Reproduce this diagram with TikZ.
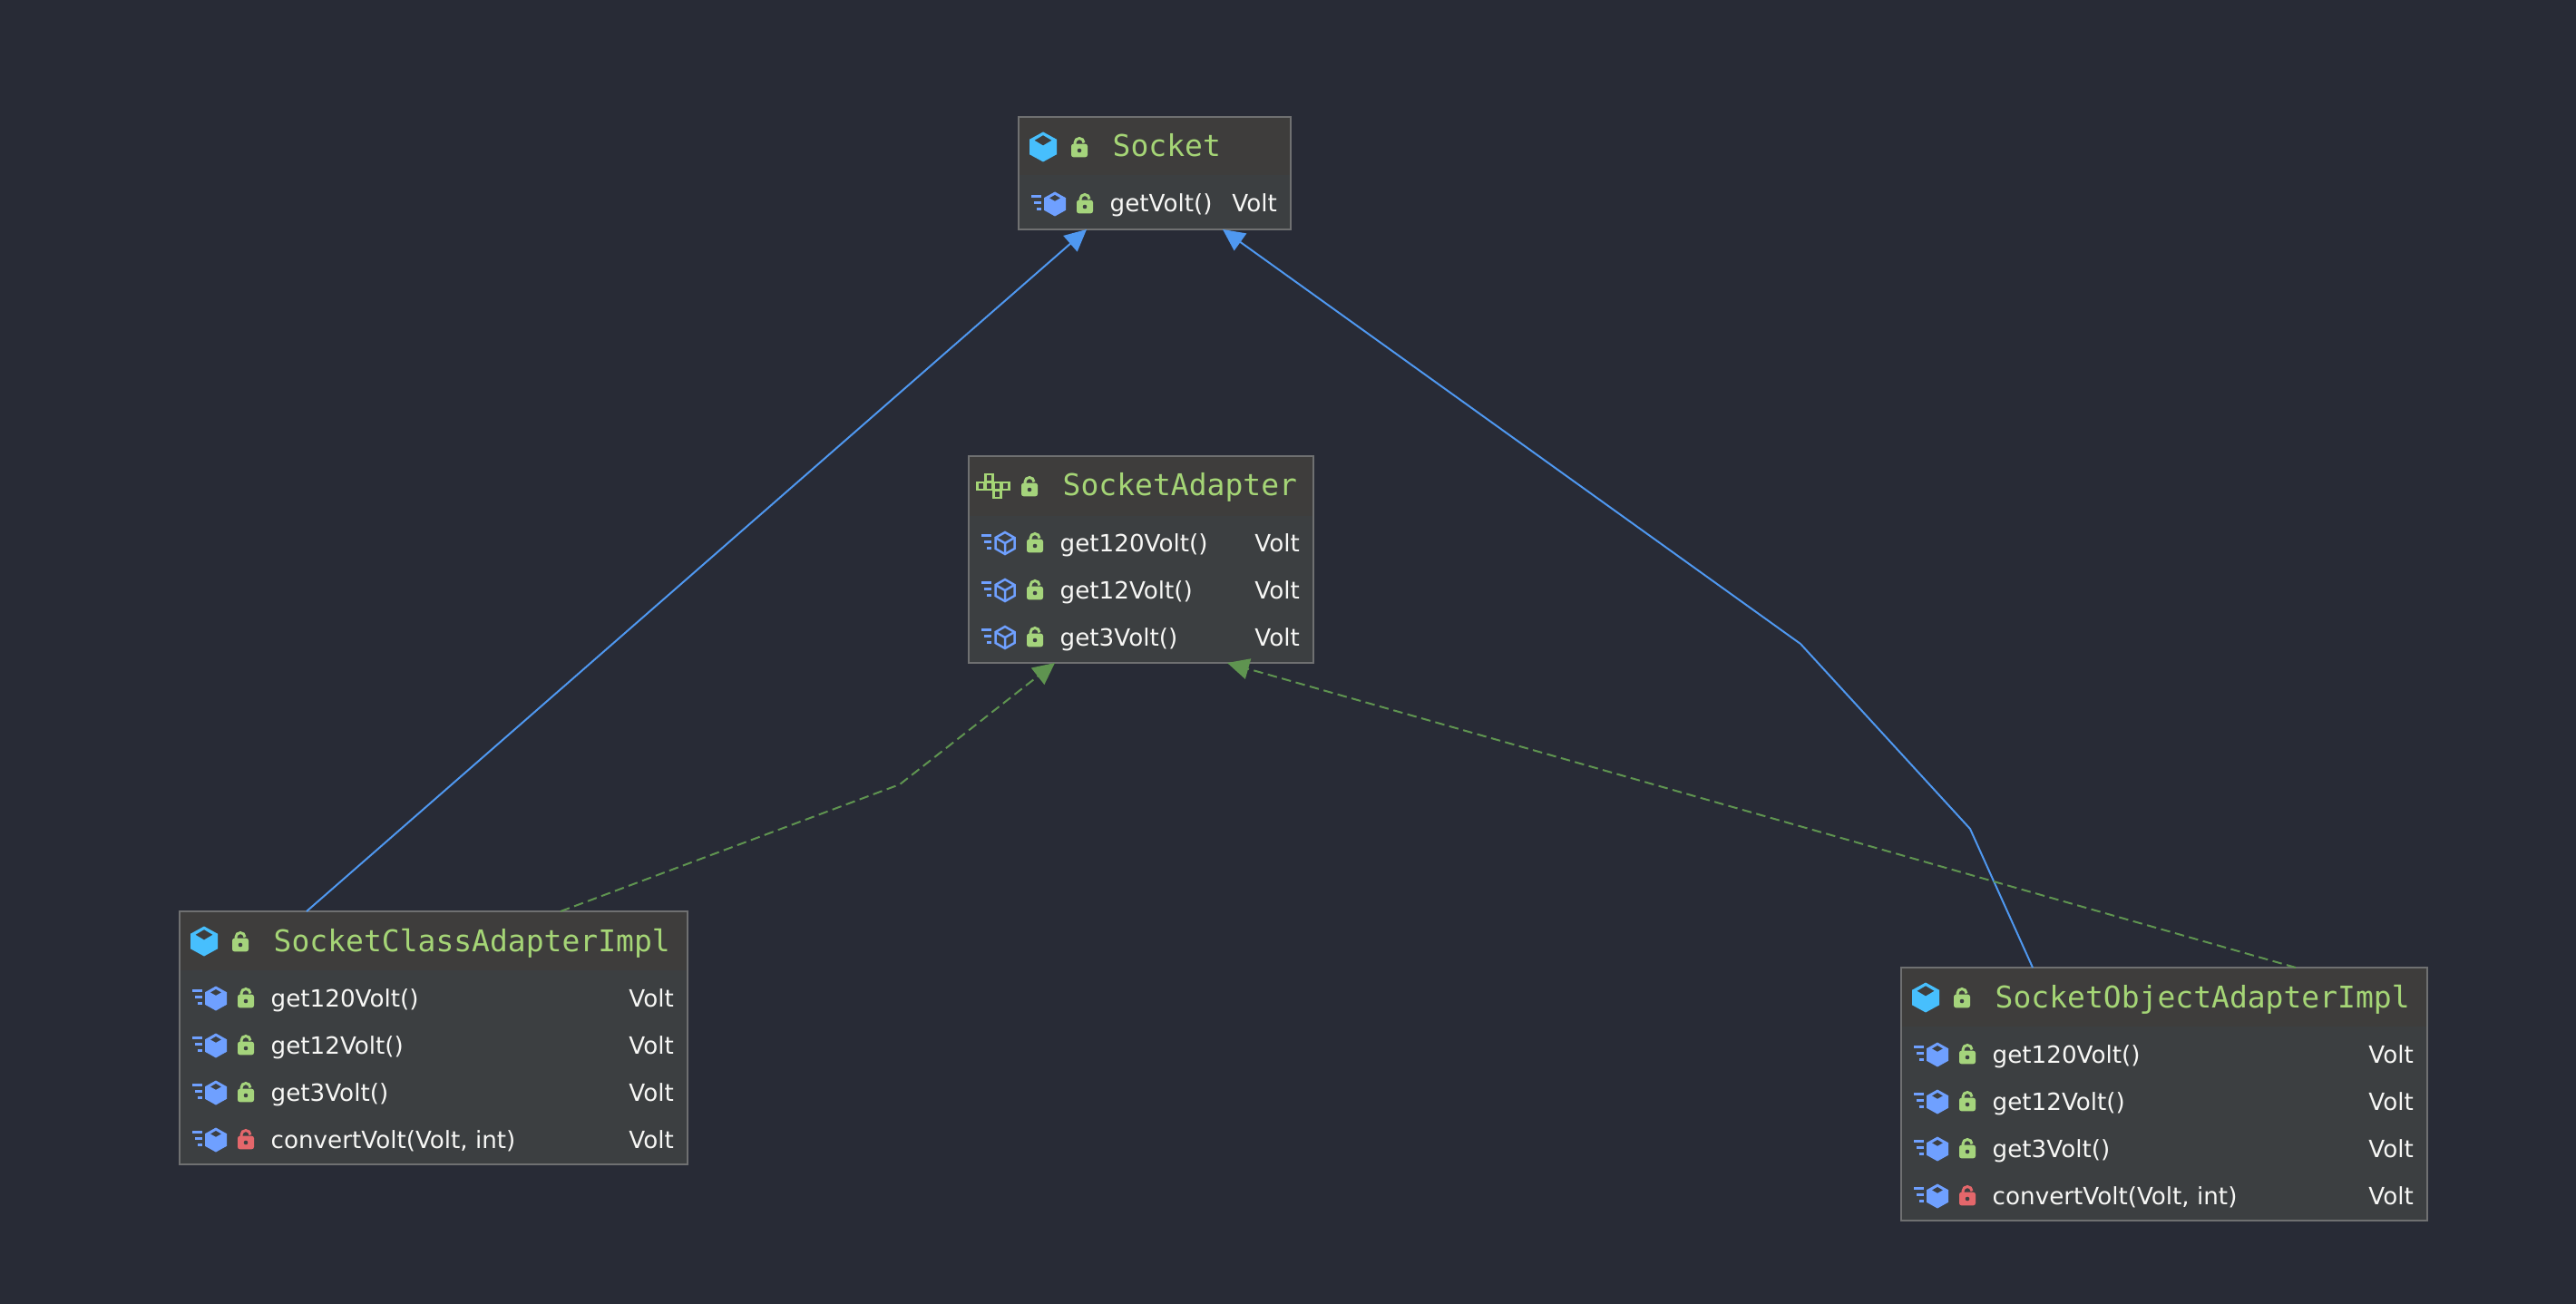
\documentclass[tikz,border=0pt]{standalone}
\usepackage{fontspec}
\usepackage{tikz}
\usetikzlibrary{calc,arrows.meta}
\setmainfont{DejaVu Sans}
\newfontfamily\titlefont{DejaVu Sans Mono}
\definecolor{bgdark}{HTML}{282B36}
\definecolor{boxgrey}{HTML}{6F7071}
\definecolor{bodygrey}{HTML}{3C3F41}
\definecolor{headgrey}{HTML}{3E3D3C}
\definecolor{titlegreen}{HTML}{A5D576}
\definecolor{lockgreen}{HTML}{A5D47C}
\definecolor{lockred}{HTML}{E4676B}
\definecolor{cubecyan}{HTML}{47BFFD}
\definecolor{cubeblue}{HTML}{6FA0FF}
\definecolor{inheritblue}{HTML}{4F98F0}
\definecolor{implgreen}{HTML}{5F9450}
\definecolor{textwhite}{HTML}{F7F7F5}

\tikzset{
    boxbody/.style={fill=bodygrey, anchor=north west, outer sep=0pt, inner sep=0pt},
    boxline/.style={draw=boxgrey, line width=0.28mm},
    titletext/.style={anchor=base west, inner sep=0pt, text=titlegreen, font=\titlefont\fontsize{9.39pt}{11pt}\selectfont},
    membertext/.style={anchor=base west, inner sep=0pt, text=textwhite, font=\fontsize{7.45pt}{9pt}\selectfont},
    typetext/.style={membertext, anchor=base east},
    inherit/.style={draw=inheritblue, line width=0.2mm, -{Triangle[length=2.4mm, width=2.3mm]}},
    implement/.style={draw=implgreen, line width=0.2mm, dash pattern=on 1.05mm off 0.55mm, -{Triangle[length=2.4mm, width=2.3mm, fill=implgreen]}},
    pics/lockicon/.style={code={
        \draw[#1, line width=0.3mm] (-0.05,0.03) -- (-0.05,0.045) arc (180:0:0.05);
        \fill[#1, rounded corners=0.25mm] (-0.09,-0.113) rectangle (0.09,0.033);
        \fill[bodygrey] (0,-0.04) circle (0.023);
    }},
    pics/headcube/.style={code={
        \fill[cubecyan] (0,0.165) -- (0.15,0.0825) -- (0.15,-0.0825) -- (0,-0.165) -- (-0.15,-0.0825) -- (-0.15,0.0825) -- cycle;
        \fill[headgrey] (0,0.127) -- (0.093,0.072) -- (0,0.017) -- (-0.093,0.072) -- cycle;
    }},
    pics/speedbars/.style={code={
        \fill[cubeblue] (-0.263,0.07) rectangle (-0.15,0.097);
        \fill[cubeblue] (-0.23,0.003) rectangle (-0.15,0.03);
        \fill[cubeblue] (-0.197,-0.067) rectangle (-0.15,-0.04);
    }},
    pics/membercube/.style={code={
        \pic at (0,0) {speedbars};
        \fill[cubeblue] (0,0.135) -- (0.12,0.068) -- (0.12,-0.068) -- (0,-0.135) -- (-0.12,-0.068) -- (-0.12,0.068) -- cycle;
        \fill[bodygrey] (0,0.1) -- (0.058,0.066) -- (0,0.033) -- (-0.058,0.066) -- cycle;
    }},
    pics/abstractcube/.style={code={
        \pic at (0,0) {speedbars};
        \draw[cubeblue, line width=0.25mm] (0,0.12) -- (0.105,0.06) -- (0.105,-0.06) -- (0,-0.12) -- (-0.105,-0.06) -- (-0.105,0.06) -- cycle;
        \draw[cubeblue, line width=0.25mm] (-0.105,0.06) -- (0,0) -- (0.105,0.06) (0,0) -- (0,-0.12);
    }},
    pics/ifaceicon/.style={code={
        \foreach \cx/\cy in {-0.045/0.09, -0.135/0, -0.045/0, 0.045/0, 0.135/0, 0.045/-0.09}
            \draw[titlegreen, line width=0.22mm] (\cx-0.04,\cy-0.04) rectangle (\cx+0.04,\cy+0.04);
    }},
}

% box with its header: name, top left, width, height, header height, title, icon
\newcommand{\classbox}[7]{
    \node[boxbody, minimum width=#3cm, minimum height=#4cm] (#1) at (#2) {};
    \fill[headgrey] (#1.north west) rectangle ($(#1.north east)+(0,-#5)$);
    \draw[boxline] (#1.north west) rectangle (#1.south east);
    \pic at ($(#1.north west)+(0.27,-0.33)$) {#7};
    \pic at ($(#1.north west)+(0.67,-0.33)$) {lockicon=lockgreen};
    \node[titletext] (#1title) at ($(#1.north west)+(1.03,-0.44)$) {#6};
}
% one method: box, row, method, lock colour, icon, type
\newcommand{\memberrow}[6]{
    \pic at ($(#1.north west)+(0.40,{-0.96-0.52*(#2-1)})$) {#5};
    \pic at ($(#1.north west)+(0.73,{-0.95-0.52*(#2-1)})$) {lockicon=#4};
    \node[membertext] (#1method#2) at ($(#1.north west)+(1.00,{-1.05-0.52*(#2-1)})$) {#3};
    \node[typetext] (#1type#2) at ($(#1.north east)+(-0.145,{-1.05-0.52*(#2-1)})$) {#6};
}

\begin{document}
\begin{tikzpicture}
    \useasboundingbox (0,0) rectangle (28.40,-14.38);
    \fill[bgdark] (0,0) rectangle (28.40,-14.38);

    \classbox{socket}{11.23,-1.29}{3.00}{1.24}{0.64}{Socket}{headcube}
    \memberrow{socket}{1}{getVolt()}{lockgreen}{membercube}{Volt}

    \classbox{adapter}{10.68,-5.03}{3.80}{2.28}{0.66}{SocketAdapter}{ifaceicon}
    \foreach \i/\m in {1/get120Volt(), 2/get12Volt(), 3/get3Volt()} {
        \memberrow{adapter}{\i}{\m}{lockgreen}{abstractcube}{Volt}
    }

    \classbox{classimpl}{1.98,-10.05}{5.60}{2.79}{0.65}{SocketClassAdapterImpl}{headcube}
    \foreach \i/\m in {1/get120Volt(), 2/get12Volt(), 3/get3Volt()} {
        \memberrow{classimpl}{\i}{\m}{lockgreen}{membercube}{Volt}
    }
    \memberrow{classimpl}{4}{convertVolt(Volt, int)}{lockred}{membercube}{Volt}

    \classbox{objectimpl}{20.96,-10.67}{5.80}{2.79}{0.65}{SocketObjectAdapterImpl}{headcube}
    \foreach \i/\m in {1/get120Volt(), 2/get12Volt(), 3/get3Volt()} {
        \memberrow{objectimpl}{\i}{\m}{lockgreen}{membercube}{Volt}
    }
    \memberrow{objectimpl}{4}{convertVolt(Volt, int)}{lockred}{membercube}{Volt}

    % ends of the connectors, a quarter in from each side
    \coordinate (socketleft) at ($(socket.south west)!.25!(socket.south east)$);
    \coordinate (socketright) at ($(socket.south west)!.75!(socket.south east)$);
    \coordinate (adapterleft) at ($(adapter.south west)!.25!(adapter.south east)$);
    \coordinate (adapterright) at ($(adapter.south west)!.75!(adapter.south east)$);
    \coordinate (classleft) at ($(classimpl.north west)!.25!(classimpl.north east)$);
    \coordinate (classright) at ($(classimpl.north west)!.75!(classimpl.north east)$);
    \coordinate (objectleft) at ($(objectimpl.north west)!.25!(objectimpl.north east)$);
    \coordinate (objectright) at ($(objectimpl.north west)!.75!(objectimpl.north east)$);
    \coordinate (classbend) at (9.92,-8.65);
    \coordinate (objectbendlow) at (21.72,-9.14);
    \coordinate (objectbendhigh) at (19.85,-7.10);

    \draw[inherit] (classleft) -- (socketleft);
    \draw[inherit] (objectleft) -- (objectbendlow) -- (objectbendhigh) -- (socketright);
    \draw[implement] (classright) -- (classbend) -- (adapterleft);
    \draw[implement] (objectright) -- (adapterright);
\end{tikzpicture}
\end{document}
